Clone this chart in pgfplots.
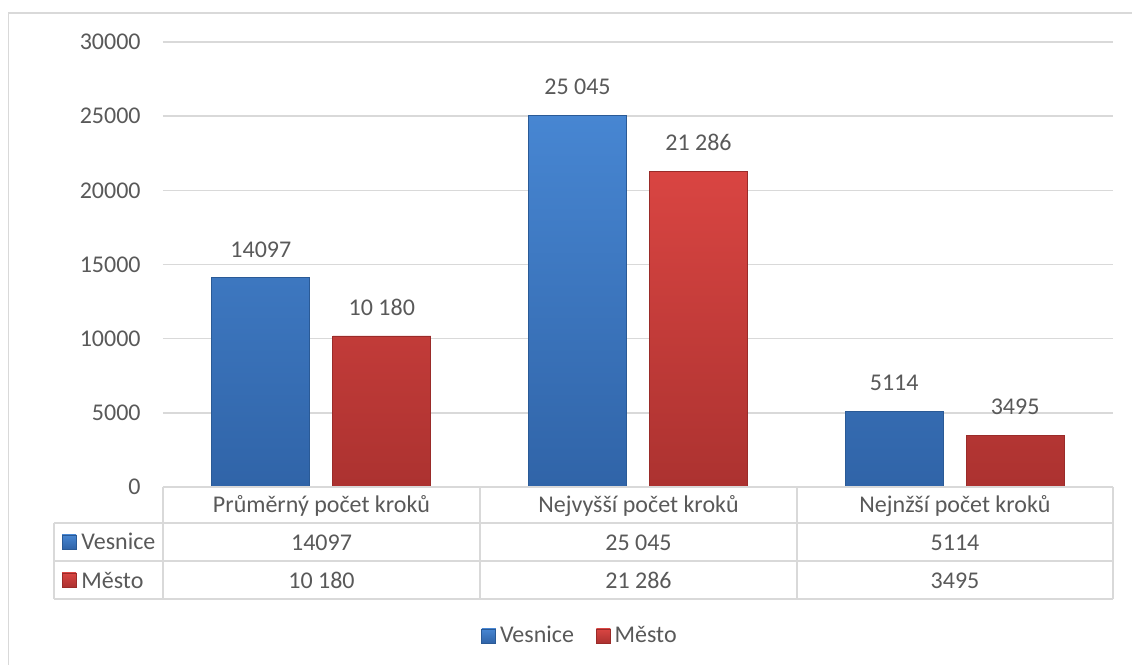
\documentclass[border=0pt]{standalone}
\usepackage{fontspec}
\setmainfont{Carlito}
\usepackage{pgfplots}
\pgfplotsset{compat=1.18}
\definecolor{txt}{HTML}{595959}
\definecolor{gridc}{HTML}{D9D9D9}
\definecolor{blueT}{HTML}{4786D2}
\definecolor{blueB}{HTML}{3064A8}
\definecolor{blueE}{HTML}{2A5A96}
\definecolor{redT}{HTML}{D94542}
\definecolor{redB}{HTML}{AC3230}
\definecolor{redE}{HTML}{9A2B29}
\newcommand{\ff}{\fontsize{12}{14}\selectfont}
\begin{document}
\begin{tikzpicture}[x=0.5pt,y=0.5pt,font=\ff]
\useasboundingbox (0,0) rectangle (1132,665);
\draw[gridc, line width=0.8pt] (8.5,-10) -- (8.5,652) -- (1140,652);
\begin{axis}[
  at={(81.5pt,89pt)}, anchor=south west,
  scale only axis, width=475pt, height=222.5pt,
  xmin=-0.5, xmax=2.5, ymin=0, ymax=30000,
  ybar, bar width=0.3095,
  xtick=\empty,
  scaled y ticks=false,
  ytick={0,5000,10000,15000,20000,25000,30000},
  yticklabels={0,5000,10000,15000,20000,25000,30000},
  ymajorgrids, grid style={color=gridc, line width=0.8pt},
  axis line style={draw=none},
  major tick length=0pt,
  yticklabel style={anchor=east, inner sep=0pt, xshift=-11pt, text=txt, font=\ff},
  point meta=explicit symbolic,
  nodes near coords,
  nodes near coords style={anchor=south, inner sep=0pt, yshift=10pt, text=txt, font=\ff},
  clip=false,
  legend columns=2,
  legend style={at={(0.3348,-0.3348)}, anchor=west, draw=none, fill=none,
    inner sep=0pt, font=\ff, text=txt,
    /tikz/every even column/.append style={column sep=9pt}},
  legend image code/.code={\draw[#1, line width=0.3pt] (0pt,-3.5pt) rectangle (7pt,3.5pt);},
]
\addplot[bar shift=-0.191, draw=blueE, line width=0.4pt, top color=blueT, bottom color=blueB]
  coordinates {(0,14097) [14097] (1,25045) [25 045] (2,5114) [5114]};
\addplot[bar shift=0.191, draw=redE, line width=0.4pt, top color=redT, bottom color=redB]
  coordinates {(0,10180) [10 180] (1,21286) [21 286] (2,3495) [3495]};
\legend{Vesnice, Město}
\end{axis}
% data table
\begin{scope}[gridc, line width=1pt]
\draw (163,178) -- (1113,178);
\draw (54,142) -- (1113,142);
\draw (54,104) -- (1113,104);
\draw (54,66) -- (1113,66);
\foreach \xx in {163,480,797,1113} \draw (\xx,178) -- (\xx,66);
\draw (54,142) -- (54,66);
\end{scope}
\begin{scope}[text=txt]
\node[anchor=base, inner sep=0pt] at (321.5,152.3) {Průměrný počet kroků};
\node[anchor=base, inner sep=0pt] at (638.5,152.3) {Nejvyšší počet kroků};
\node[anchor=base, inner sep=0pt] at (955,152.3) {Nejnžší počet kroků};
\node[anchor=base, inner sep=0pt] at (321.5,114.3) {14097};
\node[anchor=base, inner sep=0pt] at (638.5,114.3) {25 045};
\node[anchor=base, inner sep=0pt] at (955,114.3) {5114};
\node[anchor=base, inner sep=0pt] at (321.5,76) {10 180};
\node[anchor=base, inner sep=0pt] at (638.5,76) {21 286};
\node[anchor=base, inner sep=0pt] at (955,76) {3495};
\node[anchor=base west, inner sep=0pt] at (81,115) {Vesnice};
\node[anchor=base west, inner sep=0pt] at (81,76.5) {Město};
\end{scope}
\draw[blueE, line width=0.3pt, top color=blueT, bottom color=blueB] (62,116) rectangle (76,130);
\draw[redE, line width=0.3pt, top color=redT, bottom color=redB] (62,78) rectangle (76,92);
\end{tikzpicture}
\end{document}
